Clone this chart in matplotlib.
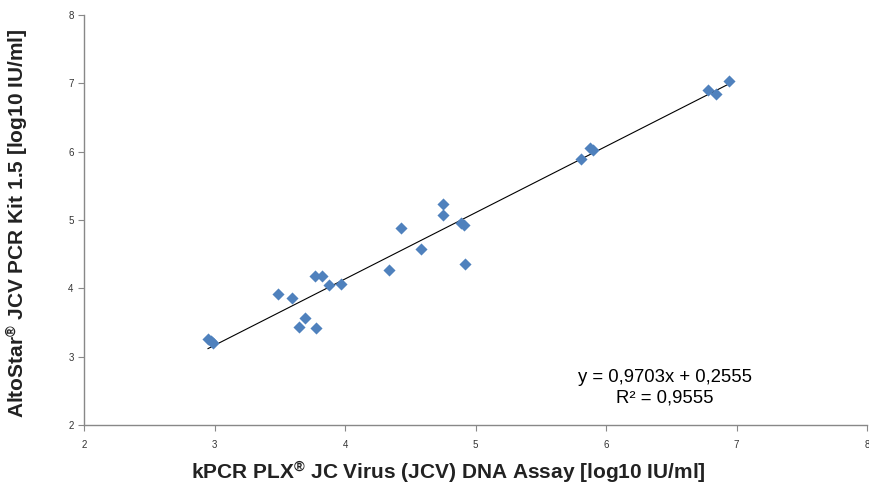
import numpy as np
import matplotlib
matplotlib.use('Agg')
import matplotlib.pyplot as plt

plt.rcParams['font.family'] = ['Liberation Sans', 'DejaVu Sans']
plt.rcParams['mathtext.fontset'] = 'custom'
plt.rcParams['mathtext.rm'] = 'Liberation Sans:bold'
plt.rcParams['mathtext.it'] = 'Liberation Sans:bold'
plt.rcParams['mathtext.bf'] = 'Liberation Sans:bold'

# kPCR PLX values (x) and AltoStar values (y), log10 IU/ml
kpcr = [2.95, 2.97, 2.99, 3.49, 3.59, 3.65, 3.69, 3.78, 3.77, 3.82, 3.88,
        3.97, 4.34, 4.43, 4.58, 4.75, 4.75, 4.89, 4.91, 4.92, 5.81, 5.88,
        5.90, 6.78, 6.84, 6.94]
altostar = [3.26, 3.23, 3.20, 3.91, 3.86, 3.44, 3.56, 3.42, 4.18, 4.18, 4.05,
            4.06, 4.27, 4.88, 4.58, 5.24, 5.07, 4.95, 4.93, 4.35, 5.90, 6.06,
            6.03, 6.90, 6.85, 7.03]
slope = 0.9703
intercept = 0.2555
r2 = 0.9555

fig = plt.figure(figsize=(8.69, 4.87), dpi=100)
ax = fig.add_axes([0.0967, 0.1273, 0.901, 0.8419])

ax.scatter(kpcr, altostar, marker='D', s=38, color='#4F81BD', zorder=3,
           linewidths=0)

xfit = np.array([min(kpcr), max(kpcr)])
ax.plot(xfit, slope * xfit + intercept, color='black', lw=0.8, zorder=2)

ax.set_xlim(2, 8)
ax.set_ylim(2, 8)
ax.set_xticks(range(2, 9))
ax.set_yticks(range(2, 9))

for side in ['top', 'right']:
    ax.spines[side].set_visible(False)
for side in ['left', 'bottom']:
    ax.spines[side].set_color('#888888')
    ax.spines[side].set_linewidth(1.0)
ax.tick_params(colors='#888888', labelcolor='#333333', labelsize=7,
               length=4, width=0.8)
ax.tick_params(axis='x', pad=7)

eq_x = 6.45
ax.text(eq_x, 2.69, 'y = %sx + %s' % (str(slope).replace('.', ','),
                                       str(intercept).replace('.', ',')),
        fontsize=13.3, ha='center', va='center')
ax.text(eq_x, 2.39, 'R² = %s' % str(r2).replace('.', ','),
        fontsize=13.3, ha='center', va='center')

fig.text(0.516, 0.029,
         r'kPCR PLX$^{\mathrm{®}}$ JC Virus (JCV) DNA Assay [log10 IU/ml]',
         fontsize=15, fontweight='bold', ha='center', va='center',
         color='#222222')
fig.text(0.021, 0.542, r'AltoStar$^{\mathrm{®}}$ JCV PCR Kit 1.5 [log10 IU/ml]',
         fontsize=15, fontweight='bold', ha='center', va='center',
         rotation=90, color='#222222')

fig.savefig('out.png', dpi=100)
